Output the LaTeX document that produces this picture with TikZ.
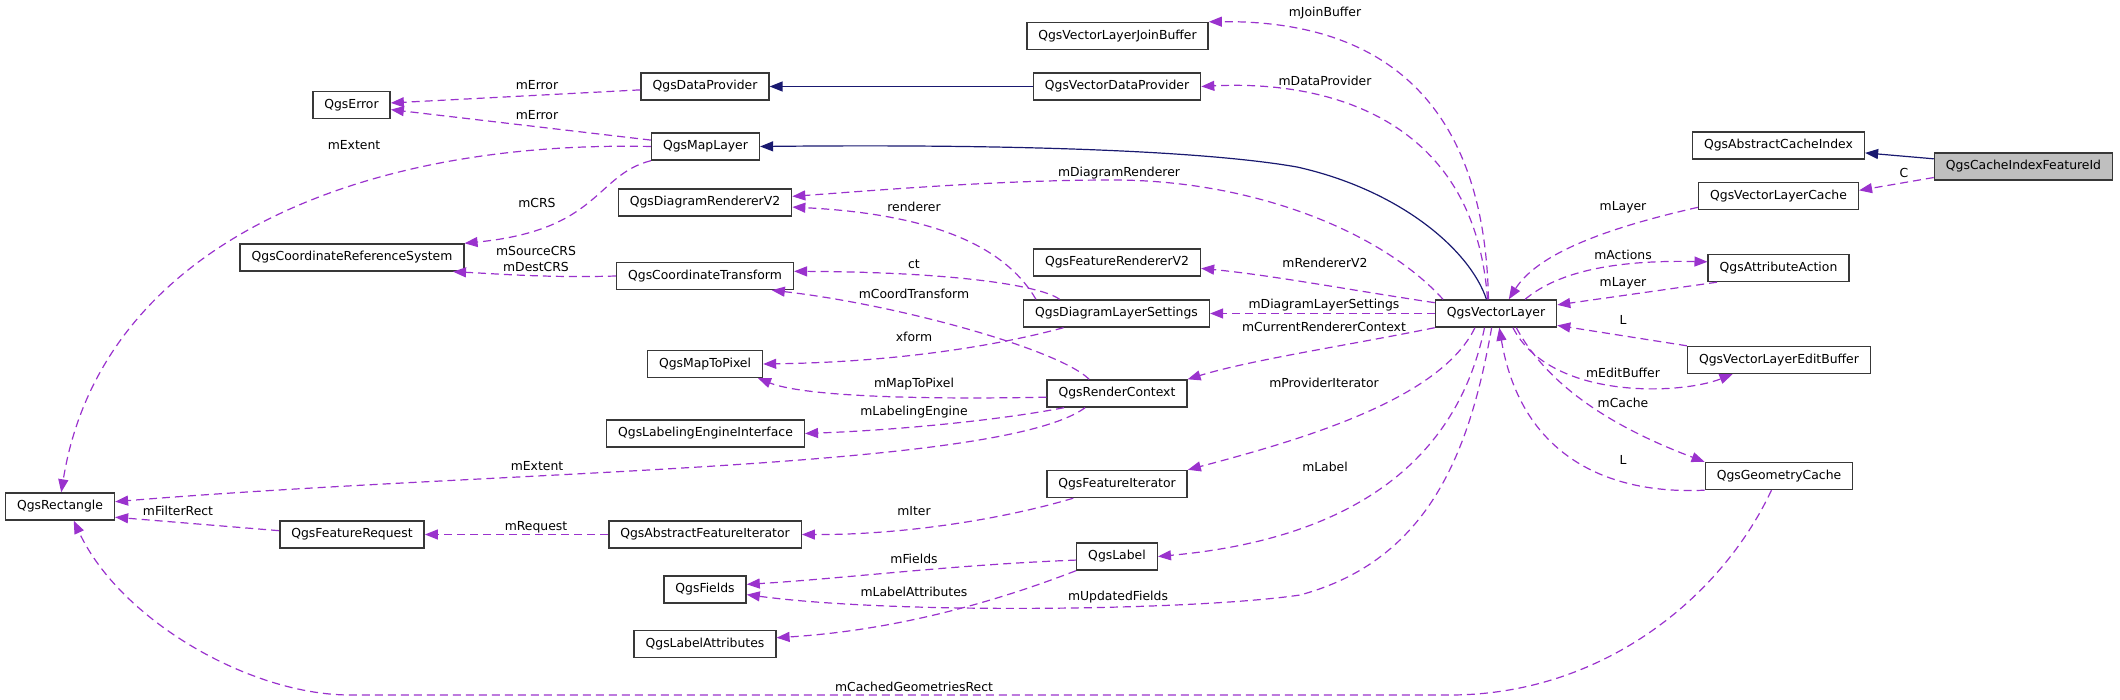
\documentclass[tikz,border=0pt]{standalone}
\usepackage{fontspec}
\setmainfont{DejaVu Sans}
\usetikzlibrary{arrows.meta}

\definecolor{depcol}{HTML}{9A32CD}
\definecolor{inhcol}{HTML}{191970}
\definecolor{maingray}{HTML}{BFBFBF}

\begin{document}
\begin{tikzpicture}[x=1pt, y=-1pt,
    cls/.style={draw=black!78, line width=1.4pt, fill=white, minimum height=27pt,
        inner xsep=11.5pt, inner ysep=0pt, font=\fontsize{12.4}{14}\selectfont},
    lbl/.style={inner sep=0pt, align=center, font=\fontsize{12.4}{16}\selectfont},
    dep/.style={depcol, line width=1.2pt, dash pattern=on 8pt off 5pt,
        -{Triangle[length=13pt, width=10pt]}},
    inh/.style={inhcol, line width=1.2pt, -{Triangle[length=13pt, width=10pt]}}
]
    \useasboundingbox (0,0) rectangle (2120,700);

    % classes
    \node[cls] (err) at (351.5,105) {QgsError};
    \node[cls] (dp) at (705,86.5) {QgsDataProvider};
    \node[cls] (ml) at (705.5,146.5) {QgsMapLayer};
    \node[cls] (drv2) at (705,202.5) {QgsDiagramRendererV2};
    \node[cls] (jb) at (1117.5,36) {QgsVectorLayerJoinBuffer};
    \node[cls] (vdp) at (1117,86.5) {QgsVectorDataProvider};
    \node[cls] (aci) at (1778.5,145.5) {QgsAbstractCacheIndex};
    \node[cls, fill=maingray] (cif) at (2023.5,166.5) {QgsCacheIndexFeatureId};
    \node[cls] (vlc) at (1778.5,196) {QgsVectorLayerCache};
    \node[cls] (crs) at (352,257.5) {QgsCoordinateReferenceSystem};
    \node[cls] (ct) at (705,276) {QgsCoordinateTransform};
    \node[cls] (frv2) at (1117,262.5) {QgsFeatureRendererV2};
    \node[cls] (dls) at (1116.5,313.5) {QgsDiagramLayerSettings};
    \node[cls] (vl) at (1496,313.5) {QgsVectorLayer};
    \node[cls] (aa) at (1778.5,268) {QgsAttributeAction};
    \node[cls] (vleb) at (1779,360) {QgsVectorLayerEditBuffer};
    \node[cls] (mtp) at (705,364) {QgsMapToPixel};
    \node[cls] (rc) at (1117,393.5) {QgsRenderContext};
    \node[cls] (lei) at (705.5,433.5) {QgsLabelingEngineInterface};
    \node[cls] (gc) at (1779,476) {QgsGeometryCache};
    \node[cls] (fi) at (1117,484) {QgsFeatureIterator};
    \node[cls] (rect) at (60,506.5) {QgsRectangle};
    \node[cls] (freq) at (352,534.5) {QgsFeatureRequest};
    \node[cls] (afi) at (705,534.5) {QgsAbstractFeatureIterator};
    \node[cls] (lbl) at (1117,556.5) {QgsLabel};
    \node[cls] (fields) at (705,589.5) {QgsFields};
    \node[cls] (la) at (705,644) {QgsLabelAttributes};

    % inheritance
    \draw[inh] (vdp) -- (dp);
    \draw[inh] (vl.124) .. controls (1470,250) and (1400,190) .. (1297,167)
        .. controls (1200,150) and (1000,144) .. (ml.east);
    \draw[inh] (cif) -- (aci);

    % usage
    \draw[dep] (dp) -- (err);
    \draw[dep] (ml) -- (err);
    \draw[dep] (ml.west) .. controls (350,140) and (100,250) .. (rect.85);
    \draw[dep] (ml.south west) .. controls (595,175) and (600,230) .. (crs.north east);
    \draw[dep] (ct.west) .. controls (550,278) and (500,274) .. (crs.-8);
    \draw[dep] (vl.118) .. controls (1485,120) and (1400,20) .. (jb.north east);
    \draw[dep] (vl.121) .. controls (1475,120) and (1330,80) .. (vdp.east);
    \draw[dep] (vl.165) .. controls (1380,230) and (1250,180) .. (1113,180)
        .. controls (1000,180) and (880,190) .. (drv2.4);
    \draw[dep] (dls.170) .. controls (1010,255) and (950,215) .. (drv2.-3);
    \draw[dep] (dls.166) .. controls (1040,285) and (950,272) .. (ct.3);
    \draw[dep] (rc.153) .. controls (1060,350) and (900,305) .. (ct.-12);
    \draw[dep] (dls.195) .. controls (1000,345) and (900,362) .. (mtp.east);
    \draw[dep] (rc.183) .. controls (900,400) and (800,395) .. (mtp.-15);
    \draw[dep] (rc.195) .. controls (1000,420) and (900,430) .. (lei.east);
    \draw[dep] (rc.204) .. controls (1000,470) and (500,470) .. (rect.5);
    \draw[dep] (vl.170) .. controls (1350,290) and (1270,275) .. (frv2.-4);
    \draw[dep] (vl) -- (dls);
    \draw[dep] (vl.south west) .. controls (1350,345) and (1250,360) .. (rc.north east);
    \draw[dep] (vl.214) .. controls (1440,400) and (1300,440) .. (fi.north east);
    \draw[dep] (vl.231) .. controls (1455,470) and (1340,540) .. (lbl.east);
    \draw[dep] (vl.253) .. controls (1470,450) and (1430,560) .. (1300,595)
        .. controls (1200,610) and (900,615) .. (fields.-7);
    \draw[dep] (afi) -- (freq);
    \draw[dep] (freq.177) -- (rect.-11);
    \draw[dep] (fi.198) .. controls (1000,520) and (900,535) .. (afi.east);
    \draw[dep] (lbl.185) .. controls (950,565) and (850,578) .. (fields.7);
    \draw[dep] (lbl.south west) .. controls (1000,600) and (900,630) .. (la.5);
    \draw[dep] (gc.242) .. controls (1720,600) and (1600,695) .. (1450,695) -- (350,695)
        .. controls (250,695) and (120,620) .. (rect.314);
    \draw[dep] (vlc.188) .. controls (1620,225) and (1540,250) .. (vl.48);
    \draw[dep] (cif.187) -- (vlc.4);
    \draw[dep] (vl.26) .. controls (1560,270) and (1620,260) .. (aa.175);
    \draw[dep] (aa.193) -- (vl.8);
    \draw[dep] (vleb.north west) -- (vl.-11);
    \draw[dep] (vl.320) .. controls (1550,400) and (1680,395) .. (vleb.197);
    \draw[dep] (vl.325) .. controls (1550,390) and (1620,430) .. (gc.north west);
    \draw[dep] (gc.south west) .. controls (1600,495) and (1520,450) .. (vl.283);

    % labels
    \node[lbl] (tJoin) at (1325,13) {mJoinBuffer};
    \node[lbl] (tProv) at (1325,81) {mDataProvider};
    \node[lbl] (tErrA) at (537,85) {mError};
    \node[lbl] (tErrB) at (537,115) {mError};
    \node[lbl] (tExtA) at (354,145) {mExtent};
    \node[lbl] (tDiagR) at (1119,173) {mDiagramRenderer};
    \node[lbl] (tC) at (1904,173) {C};
    \node[lbl] (tCRS) at (537,203) {mCRS};
    \node[lbl] (tRend) at (914,207) {renderer};
    \node[lbl] (tLayA) at (1623,207) {mLayer};
    \node[lbl] (tAct) at (1623,255) {mActions};
    \node[lbl] (tRendV2) at (1325,263) {mRendererV2};
    \node[lbl] (tCt) at (914,264) {ct};
    \node[lbl] (tSrc) at (536,259) {mSourceCRS\\mDestCRS};
    \node[lbl] (tLayB) at (1623,283) {mLayer};
    \node[lbl] (tCoord) at (914,294) {mCoordTransform};
    \node[lbl] (tDLS) at (1324,305) {mDiagramLayerSettings};
    \node[lbl] (tLA) at (1623,320) {L};
    \node[lbl] (tCurr) at (1324,327) {mCurrentRendererContext};
    \node[lbl] (tXf) at (914,337) {xform};
    \node[lbl] (tEdit) at (1623,373) {mEditBuffer};
    \node[lbl] (tPIt) at (1324,383) {mProviderIterator};
    \node[lbl] (tMtp) at (914,384) {mMapToPixel};
    \node[lbl] (tCache) at (1623,403) {mCache};
    \node[lbl] (tLEng) at (914,412) {mLabelingEngine};
    \node[lbl] (tLB) at (1623,460) {L};
    \node[lbl] (tExtB) at (537,466) {mExtent};
    \node[lbl] (tLabel) at (1325,467) {mLabel};
    \node[lbl] (tFRect) at (178,511) {mFilterRect};
    \node[lbl] (tIter) at (914,511) {mIter};
    \node[lbl] (tReq) at (536,527) {mRequest};
    \node[lbl] (tFields) at (914,559) {mFields};
    \node[lbl] (tLAttr) at (914,592) {mLabelAttributes};
    \node[lbl] (tUpd) at (1118,597) {mUpdatedFields};
    \node[lbl] (tCGR) at (914,687) {mCachedGeometriesRect};
\end{tikzpicture}
\end{document}
